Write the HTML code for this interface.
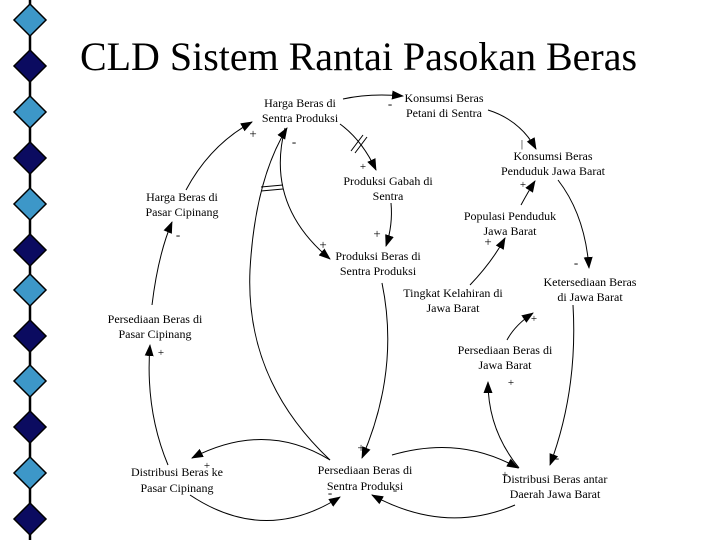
<!DOCTYPE html>
<html><head><meta charset="utf-8"><style>
html,body{margin:0;padding:0;background:#fff;width:720px;height:540px;overflow:hidden}
svg{display:block}
text{font-family:"Liberation Serif",serif}
</style></head><body>
<svg width="720" height="540" viewBox="0 0 720 540" xmlns="http://www.w3.org/2000/svg">
<defs>
<marker id="a" viewBox="0 0 12 10" refX="11" refY="5" markerWidth="12" markerHeight="10" markerUnits="userSpaceOnUse" orient="auto">
<path d="M0,0.5 L12,5 L0,9.5 z" fill="#000"/>
</marker>
</defs>
<line x1="30" y1="0" x2="30" y2="540" stroke="#000" stroke-width="2.5"/>
<g stroke="#000" stroke-width="1.5">
<path d="M30,4 L46,20 L30,36 L14,20z" fill="#3d97c8"/>
<path d="M30,50 L46,66 L30,82 L14,66z" fill="#0b0b60"/>
<path d="M30,96 L46,112 L30,128 L14,112z" fill="#3d97c8"/>
<path d="M30,142 L46,158 L30,174 L14,158z" fill="#0b0b60"/>
<path d="M30,188 L46,204 L30,220 L14,204z" fill="#3d97c8"/>
<path d="M30,234 L46,250 L30,266 L14,250z" fill="#0b0b60"/>
<path d="M30,274 L46,290 L30,306 L14,290z" fill="#3d97c8"/>
<path d="M30,320 L46,336 L30,352 L14,336z" fill="#0b0b60"/>
<path d="M30,365 L46,381 L30,397 L14,381z" fill="#3d97c8"/>
<path d="M30,411 L46,427 L30,443 L14,427z" fill="#0b0b60"/>
<path d="M30,457 L46,473 L30,489 L14,473z" fill="#3d97c8"/>
<path d="M30,503 L46,519 L30,535 L14,519z" fill="#0b0b60"/>
</g>
<text x="80" y="70" font-size="40" textLength="557" lengthAdjust="spacingAndGlyphs">CLD Sistem Rantai Pasokan Beras</text>

<g font-size="12" text-anchor="middle" fill="#000">
<text x="300" y="107">Harga Beras di</text><text x="300" y="122">Sentra Produksi</text>
<text x="444" y="102">Konsumsi Beras</text><text x="444" y="117">Petani di Sentra</text>
<text x="553" y="160">Konsumsi Beras</text><text x="553" y="175">Penduduk Jawa Barat</text>
<text x="388" y="185">Produksi Gabah di</text><text x="388" y="200">Sentra</text>
<text x="182" y="201">Harga Beras di</text><text x="182" y="216">Pasar Cipinang</text>
<text x="510" y="220">Populasi Penduduk</text><text x="510" y="235">Jawa Barat</text>
<text x="378" y="260">Produksi Beras di</text><text x="378" y="275">Sentra Produksi</text>
<text x="590" y="286">Ketersediaan Beras</text><text x="590" y="301">di Jawa Barat</text>
<text x="453" y="297">Tingkat Kelahiran di</text><text x="453" y="312">Jawa Barat</text>
<text x="155" y="323">Persediaan Beras di</text><text x="155" y="338">Pasar Cipinang</text>
<text x="505" y="354">Persediaan Beras di</text><text x="505" y="369">Jawa Barat</text>
<text x="177" y="476">Distribusi Beras ke</text><text x="177" y="492">Pasar Cipinang</text>
<text x="365" y="474">Persediaan Beras di</text><text x="365" y="490">Sentra Produksi</text>
<text x="555" y="483">Distribusi Beras antar</text><text x="555" y="498">Daerah Jawa Barat</text>
</g>

<g fill="none" stroke="#000" stroke-width="1" marker-end="url(#a)">
<path d="M343,99 Q370,93 403,96"/>
<path d="M340,124 Q362,140 376,170"/>
<path d="M488,110 Q520,120 536,149"/>
<path d="M558,180 Q585,215 589,268"/>
<path d="M521,205 Q528,192 535,181"/>
<path d="M470,285 Q492,262 505,238"/>
<path d="M391,203 Q393,225 386,246"/>
<path d="M285,128 Q265,205 330,259"/>
<path d="M330,460 Q245,380 250,270 Q255,180 287,128"/>
<path d="M382,283 Q400,370 362,458"/>
<path d="M330,460 Q265,420 192,458"/>
<path d="M190,495 Q265,545 340,497"/>
<path d="M392,455 Q460,435 518,468"/>
<path d="M515,505 Q445,535 372,495"/>
<path d="M168,465 Q145,410 150,345"/>
<path d="M152,305 Q158,255 172,222"/>
<path d="M186,190 Q210,145 252,122"/>
<path d="M573,305 Q578,390 550,465"/>
<path d="M519,468 Q488,430 488,382"/>
<path d="M507,340 Q515,325 533,313"/>
</g>
<g stroke="#000" stroke-width="1">
<line x1="351" y1="151" x2="363" y2="135"/><line x1="355" y1="153" x2="367" y2="137"/>
<line x1="261" y1="187" x2="283" y2="185"/><line x1="261" y1="191" x2="283" y2="189"/>
</g>
<g font-size="13" fill="#000" text-anchor="middle">
<text x="390" y="108">-</text>
<text x="253" y="138">+</text>
<text x="294" y="146">-</text>
<text x="363" y="170" font-size="11">+</text>
<text x="522" y="147" font-size="11">|</text>
<text x="523" y="188" font-size="11">+</text>
<text x="576" y="267">-</text>
<text x="488" y="246">+</text>
<text x="377" y="238">+</text>
<text x="323" y="249">+</text>
<text x="178" y="239">-</text>
<text x="161" y="356" font-size="11">+</text>
<text x="361" y="452">+</text>
<text x="207" y="469" font-size="11">+</text>
<text x="330" y="497">-</text>
<text x="395" y="494">-</text>
<text x="505" y="478" font-size="11">+</text>
<text x="557" y="462">-</text>
<text x="511" y="386" font-size="11">+</text>
<text x="534" y="322" font-size="11">+</text>
</g>
</svg>
</body></html>
